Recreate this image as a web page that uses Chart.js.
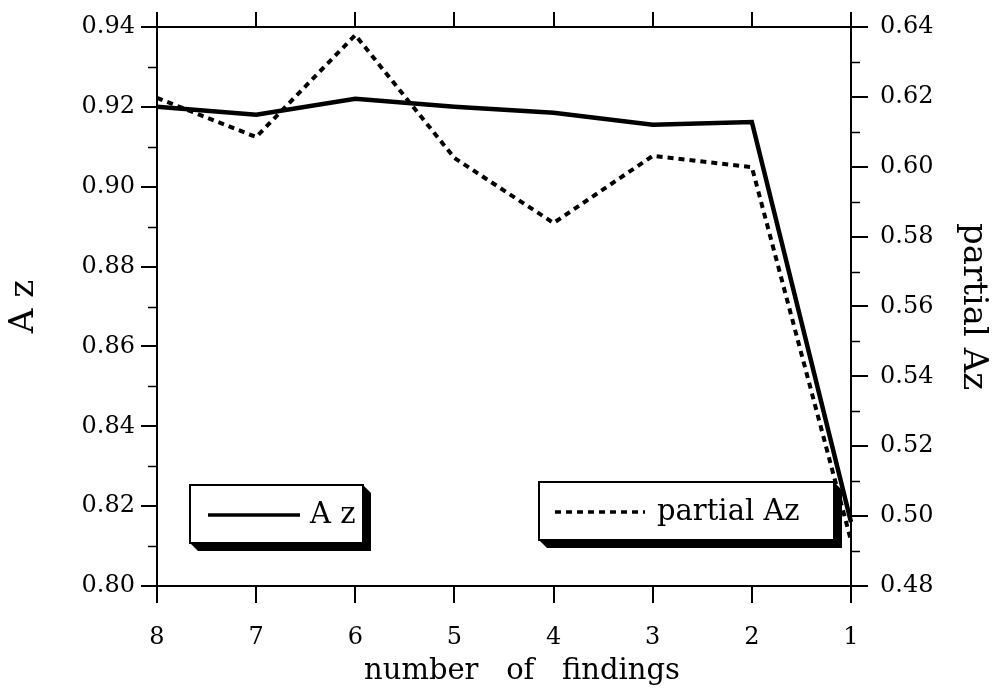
<!DOCTYPE html>
<html>
<head>
<meta charset="utf-8">
<script src="https://cdn.jsdelivr.net/npm/chart.js@4.4.1/dist/chart.umd.min.js"></script>
<style>
  body { margin: 0; background: #fff; }
  canvas { display: block; }
</style>
</head>
<body>
<canvas id="az-chart" width="995" height="692"></canvas>
<script>
const findings  = ['8', '7', '6', '5', '4', '3', '2', '1'];
const az        = [0.920, 0.918, 0.922, 0.920, 0.9185, 0.9155, 0.9162, 0.816];
const partialAz = [0.6197, 0.6085, 0.6377, 0.6025, 0.5839, 0.6031, 0.5999, 0.493];

const azTicks      = [0.80, 0.82, 0.84, 0.86, 0.88, 0.90, 0.92, 0.94];
const partialTicks = [0.48, 0.50, 0.52, 0.54, 0.56, 0.58, 0.60, 0.62, 0.64];

const seriesNames = ['A z', 'partial Az'];
const xTitle = 'number   of   findings';
const leftTitle = 'A z';
const rightTitle = 'partial Az';

const serif = 'DejaVu Serif';
Chart.defaults.font.family = serif;
Chart.defaults.color = '#000';

// midpoints between the labelled ticks get a short tick
function minorTicks(list) {
    const out = [];
    for (let i = 0; i < list.length - 1; i++) out.push((list[i] + list[i + 1]) / 2);
    return out;
}

const minorTickPlugin = {
    id: 'minorTicks',
    afterDraw(chart) {
        const ctx = chart.ctx;
        const area = chart.chartArea;
        ctx.save();
        ctx.strokeStyle = '#000';
        ctx.lineWidth = 1.5;
        ctx.beginPath();
        minorTicks(azTicks).forEach(v => {
            const y = Math.round(chart.scales.y.getPixelForValue(v)) + 0.5;
            ctx.moveTo(area.left - 9, y);
            ctx.lineTo(area.left, y);
        });
        minorTicks(partialTicks).forEach(v => {
            const y = Math.round(chart.scales.y1.getPixelForValue(v)) + 0.5;
            ctx.moveTo(area.right, y);
            ctx.lineTo(area.right + 9, y);
        });
        ctx.stroke();
        ctx.restore();
    }
};

const xTitlePlugin = {
    id: 'xTitle',
    afterDraw(chart) {
        const ctx = chart.ctx;
        const area = chart.chartArea;
        ctx.save();
        ctx.font = '29px "' + serif + '"';
        ctx.fillStyle = '#000';
        ctx.textAlign = 'center';
        ctx.textBaseline = 'alphabetic';
        ctx.fillText(xTitle, (area.left + area.right) / 2 + 18, 679);
        ctx.restore();
    }
};

// shadowed legend boxes inside the plot
const boxLegendPlugin = {
    id: 'boxLegend',
    afterDatasetsDraw(chart) {
        const ctx = chart.ctx;
        const boxes = [
            { x: 190, y: 485, w: 173, h: 58, lineX: 208, lineW: 92, textX: 310 },
            { x: 539, y: 482, w: 295, h: 58, lineX: 555, lineW: 90, textX: 657 }
        ];
        ctx.save();
        boxes.forEach((b, i) => {
            const ds = chart.data.datasets[i];
            const d = 8;
            ctx.fillStyle = '#000';
            ctx.beginPath();
            ctx.moveTo(b.x + b.w, b.y);
            ctx.lineTo(b.x + b.w + d, b.y + d);
            ctx.lineTo(b.x + b.w + d, b.y + b.h + d);
            ctx.lineTo(b.x + d, b.y + b.h + d);
            ctx.lineTo(b.x, b.y + b.h);
            ctx.closePath();
            ctx.fill();
            ctx.fillStyle = '#fff';
            ctx.fillRect(b.x, b.y, b.w, b.h);
            ctx.strokeStyle = '#000';
            ctx.lineWidth = 2;
            ctx.setLineDash([]);
            ctx.strokeRect(b.x, b.y, b.w, b.h);

            const ly = b.y + b.h / 2 + 1;
            ctx.lineWidth = 3.5;
            ctx.setLineDash(ds.borderDash || []);
            ctx.beginPath();
            ctx.moveTo(b.lineX, ly);
            ctx.lineTo(b.lineX + b.lineW, ly);
            ctx.stroke();
            ctx.setLineDash([]);

            ctx.fillStyle = '#000';
            ctx.font = '29px "' + serif + '"';
            ctx.textAlign = 'left';
            ctx.textBaseline = 'middle';
            ctx.fillText(ds.label, b.textX, ly);
        });
        ctx.restore();
    }
};

const tickGrid = len => ({
    drawOnChartArea: false,
    tickLength: len,
    color: '#000',
    lineWidth: 2
});

new Chart(document.getElementById('az-chart'), {
    type: 'line',
    data: {
        labels: findings,
        datasets: [{
            label: seriesNames[0],
            data: az,
            yAxisID: 'y',
            borderColor: '#000',
            borderWidth: 4.5,
            pointRadius: 0,
            tension: 0
        }, {
            label: seriesNames[1],
            data: partialAz,
            yAxisID: 'y1',
            borderColor: '#000',
            borderWidth: 4,
            borderDash: [6, 5],
            pointRadius: 0,
            tension: 0
        }]
    },
    options: {
        responsive: false,
        animation: false,
        layout: { padding: 0 },
        plugins: {
            legend: { display: false },
            tooltip: { enabled: false }
        },
        scales: {
            x: {
                type: 'category',
                position: 'bottom',
                offset: false,
                grid: Object.assign(tickGrid(17), { offset: false }),
                border: { color: '#000', width: 2 },
                ticks: { font: { size: 24 }, padding: 20, maxRotation: 0 },
                afterFit: s => { s.height = 106; }
            },
            x2: {
                type: 'category',
                position: 'top',
                offset: false,
                grid: Object.assign(tickGrid(15), { offset: false }),
                border: { color: '#000', width: 2 },
                ticks: { display: false },
                afterFit: s => { s.height = 27; }
            },
            y: {
                position: 'left',
                min: 0.80,
                max: 0.94,
                grid: tickGrid(16),
                border: { color: '#000', width: 2 },
                ticks: { font: { size: 24 }, padding: 6, callback: v => v.toFixed(2) },
                afterBuildTicks: s => { s.ticks = azTicks.map(v => ({ value: v })); },
                title: { display: true, text: leftTitle, font: { size: 34 }, padding: { top: 4, bottom: 0 } },
                afterFit: s => { s.width = 157; }
            },
            y1: {
                position: 'right',
                min: 0.48,
                max: 0.64,
                grid: tickGrid(17),
                border: { color: '#000', width: 2 },
                ticks: { font: { size: 24 }, padding: 12, callback: v => v.toFixed(2) },
                afterBuildTicks: s => { s.ticks = partialTicks.map(v => ({ value: v })); },
                title: { display: true, text: rightTitle, font: { size: 34 }, padding: { top: 2, bottom: 0 } },
                afterFit: s => { s.width = 144; }
            }
        }
    },
    plugins: [minorTickPlugin, xTitlePlugin, boxLegendPlugin]
});
</script>
</body>
</html>
